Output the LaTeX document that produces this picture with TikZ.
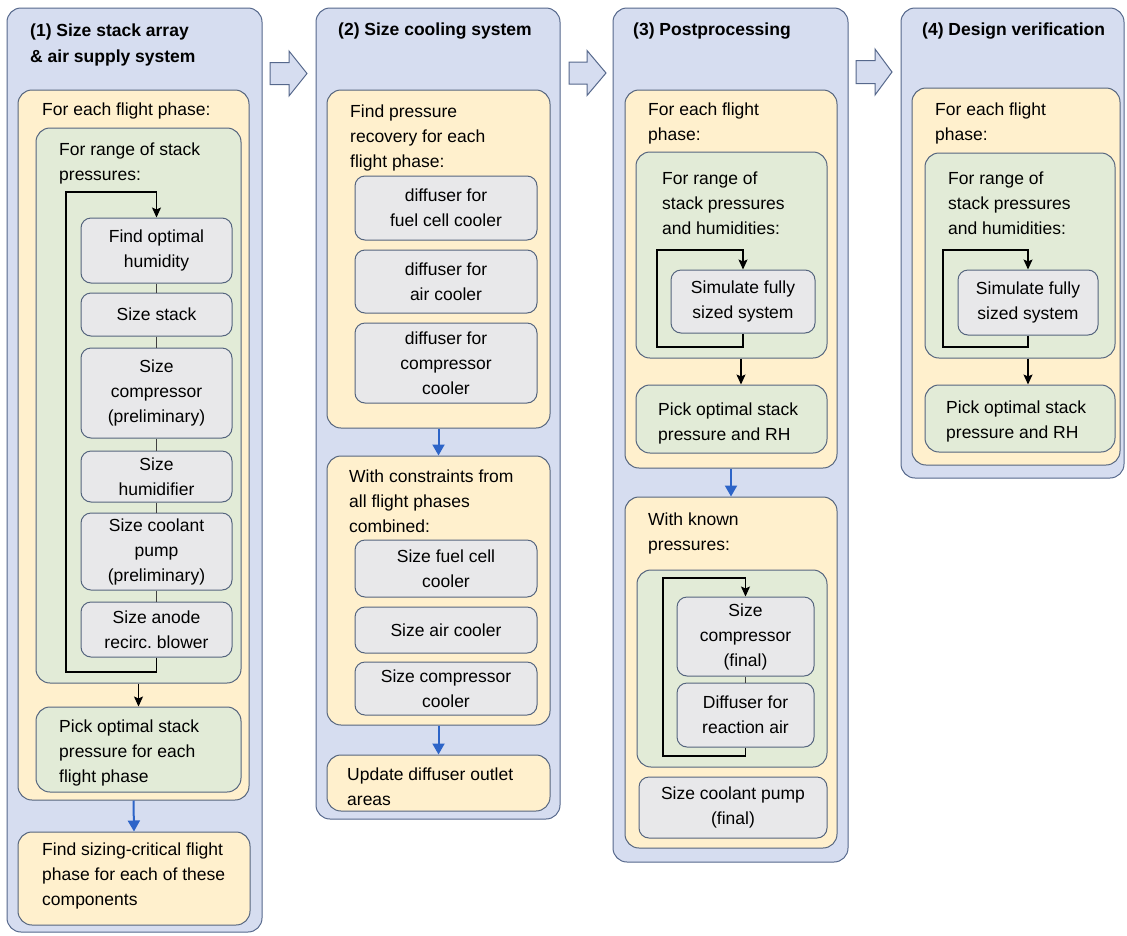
\documentclass[tikz,border=0pt]{standalone}
\usepackage{fontspec}
\setmainfont{Liberation Sans}
\usetikzlibrary{arrows.meta}
\frenchspacing
\definecolor{blueF}{HTML}{D6DDF0}
\definecolor{blueD}{HTML}{56688C}
\definecolor{orF}{HTML}{FFF0CD}
\definecolor{grF}{HTML}{E2EBD7}
\definecolor{gyF}{HTML}{E8E8EA}
\definecolor{bdr}{HTML}{55657E}
\definecolor{arrB}{HTML}{2D64C8}
\newcommand{\mkbox}[7]{\node[#2, minimum width={#5-#3}, minimum height={#6-#4}] (#1) at ({(#3+#5)/2},{(#4+#6)/2}) {#7};}
% text node: anchored at the baseline of its LAST line
\newcommand{\mktxt}[4]{\node[txt] (#1) at (#2,#3) {#4};}
\tikzset{
  basefont/.style={font=\fontsize{17.5}{25}\selectfont},
  cont/.style={draw=bdr, line width=1pt, rounded corners=14pt, inner sep=0pt},
  bluec/.style={cont, fill=blueF, draw=blueD},
  orc/.style={cont, fill=orF},
  grc/.style={cont, fill=grF},
  grayb/.style={draw=bdr, line width=1pt, fill=gyF, rounded corners=10pt, inner sep=0pt, align=center, basefont},
  txt/.style={anchor=base west, inner sep=0pt, align=left, basefont},
  ttl/.style={txt, font=\fontsize{17.5}{26}\selectfont\bfseries},
  link/.style={draw=black!75, line width=1pt},
  loopar/.style={draw=black, line width=1.3pt, -{Stealth[length=10pt,width=9pt,inset=2pt]}},
  bluear/.style={draw=arrB, line width=2pt, -{Triangle[length=11pt,width=12pt]}},
  hollow/.style={draw=blueD, fill=blueF, line width=1pt, line join=miter}
}
\begin{document}
\begin{tikzpicture}[x=1pt,y=-1pt]
\useasboundingbox[fill=white] (0,0) rectangle (1127,935);

% ---------- hollow arrows between columns
\begin{scope}[shift={(270,73.5)}]
\draw[hollow] (0,-11) -- (19,-11) -- (19,-22.5) -- (37,0) -- (19,22.5) -- (19,11) -- (0,11) -- cycle;
\end{scope}
\begin{scope}[shift={(569,73)}]
\draw[hollow] (0,-11) -- (18,-11) -- (18,-22.5) -- (37,0) -- (18,22.5) -- (18,11) -- (0,11) -- cycle;
\end{scope}
\begin{scope}[shift={(856,72)}]
\draw[hollow] (0,-11.5) -- (19,-11.5) -- (19,-23) -- (36,0) -- (19,23) -- (19,11.5) -- (0,11.5) -- cycle;
\end{scope}

% ================= Column 1
\mkbox{B1}{bluec}{7}{8}{262}{932}{}
\node[ttl] (T1) at (30,62) {(1) Size stack array\\\& air supply system};
\mkbox{O11}{orc}{18}{90}{249}{800}{}
\mktxt{O11t}{42}{115}{For each flight phase:}
\mkbox{G11}{grc}{36}{128}{241}{683}{}
\mktxt{G11t}{59}{180}{For range of stack\\pressures:}
\mkbox{g11}{grayb}{81}{218}{232}{283}{Find optimal\\humidity}
\mkbox{g12}{grayb}{81}{293}{232}{336}{Size stack}
\mkbox{g13}{grayb}{81}{348}{232}{438}{Size\\compressor\\(preliminary)}
\mkbox{g14}{grayb}{81}{451}{232}{502}{Size\\humidifier}
\mkbox{g15}{grayb}{81}{513}{232}{590}{Size coolant\\pump\\(preliminary)}
\mkbox{g16}{grayb}{81}{602}{232}{657}{Size anode\\recirc. blower}
\mkbox{P1}{grc}{36}{707}{241}{792}{}
\mktxt{P1t}{59}{782}{Pick optimal stack\\pressure for each\\flight phase}
\mkbox{O12}{orc}{18}{832}{250}{925}{}
\mktxt{O12t}{42}{905}{Find sizing-critical flight\\phase for each of these\\components}
\draw[link] (g11) -- (g12);
\draw[link] (g12) -- (g13);
\draw[link] (g13) -- (g14);
\draw[link] (g14) -- (g15);
\draw[link] (g15) -- (g16);
\coordinate (L1b) at (66,672);
\coordinate (L1t) at (66,192);
\draw[loopar] (g16.south) |- (L1b) -- (L1t) -| (g11.north);
\draw[loopar] (G11.south) -- (P1.north);
\draw[bluear] (O11.south) -- (O12.north);

% ================= Column 2
\mkbox{B2}{bluec}{316}{8}{560}{819}{}
\node[ttl] (T2) at (338,35) {(2) Size cooling system};
\mkbox{O21}{orc}{327}{90}{550}{428}{}
\mktxt{O21t}{350}{167}{Find pressure\\recovery for each\\flight phase:}
\mkbox{g21}{grayb}{355}{176}{537}{240}{diffuser for\\fuel cell cooler}
\mkbox{g22}{grayb}{355}{250}{537}{313}{diffuser for\\air cooler}
\mkbox{g23}{grayb}{355}{323}{537}{403}{diffuser for\\compressor\\cooler}
\mkbox{O22}{orc}{327}{456}{550}{725}{}
\mktxt{O22t}{349}{532}{With constraints from\\all flight phases\\combined:}
\mkbox{g24}{grayb}{355}{540}{537}{597}{Size fuel cell\\cooler}
\mkbox{g25}{grayb}{355}{607}{537}{653}{Size air cooler}
\mkbox{g26}{grayb}{355}{662}{537}{715}{Size compressor\\cooler}
\mkbox{O23}{orc}{327}{755}{550}{811}{}
\mktxt{O23t}{347}{805}{Update diffuser outlet\\areas}
\draw[bluear] (O21.south) -- (O22.north);
\draw[bluear] (O22.south) -- (O23.north);

% ================= Column 3
\mkbox{B3}{bluec}{613}{8}{848}{862}{}
\node[ttl] (T3) at (633,35) {(3) Postprocessing};
\mkbox{O31}{orc}{625}{90}{837}{468}{}
\mktxt{O31t}{648}{140}{For each flight\\phase:}
\mkbox{G31}{grc}{636}{152}{827}{358}{}
\mktxt{G31t}{662}{234}{For range of\\stack pressures\\and humidities:}
\mkbox{g31}{grayb}{671}{270}{815}{333}{Simulate fully\\sized system}
\coordinate (L3b) at (657,347);
\coordinate (L3t) at (657,250);
\draw[loopar] (g31.south) |- (L3b) -- (L3t) -| (g31.north);
\mkbox{P3}{grc}{636}{385}{827}{453}{}
\mktxt{P3t}{658}{440}{Pick optimal stack\\pressure and RH}
\coordinate (A3) at (741,0);
\draw[loopar] (G31.south -| A3) -- (P3.north -| A3);
\mkbox{O32}{orc}{625}{497}{837}{848}{}
\mktxt{O32t}{648}{550}{With known\\pressures:}
\mkbox{G32}{grc}{637}{570}{827}{767}{}
\mkbox{g32}{grayb}{677}{597}{814}{676}{Size\\compressor\\(final)}
\mkbox{g33}{grayb}{677}{683}{814}{747}{Diffuser for\\reaction air}
\draw[link] (g32) -- (g33);
\coordinate (L3c) at (663,756);
\coordinate (L3d) at (663,578);
\draw[loopar] (g33.south) |- (L3c) -- (L3d) -| (g32.north);
\mkbox{g34}{grayb}{639}{777}{827}{838}{Size coolant pump\\(final)}
\draw[bluear] (O31.south) -- (O32.north);

% ================= Column 4
\mkbox{B4}{bluec}{901}{8}{1124}{478}{}
\node[ttl] (T4) at (922,35) {(4) Design verification};
\mkbox{O4}{orc}{912}{88}{1120}{465}{}
\mktxt{O4t}{935}{140}{For each flight\\phase:}
\mkbox{G4}{grc}{925}{153}{1115}{358}{}
\mktxt{G4t}{948}{234}{For range of\\stack pressures\\and humidities:}
\mkbox{g41}{grayb}{958}{270}{1098}{335}{Simulate fully\\sized system}
\coordinate (L4b) at (943,347);
\coordinate (L4t) at (943,250);
\draw[loopar] (g41.south) |- (L4b) -- (L4t) -| (g41.north);
\mkbox{P4}{grc}{925}{385}{1115}{452}{}
\mktxt{P4t}{946}{438}{Pick optimal stack\\pressure and RH}
\coordinate (A4) at (1028,0);
\draw[loopar] (G4.south -| A4) -- (P4.north -| A4);
\end{tikzpicture}
\end{document}
